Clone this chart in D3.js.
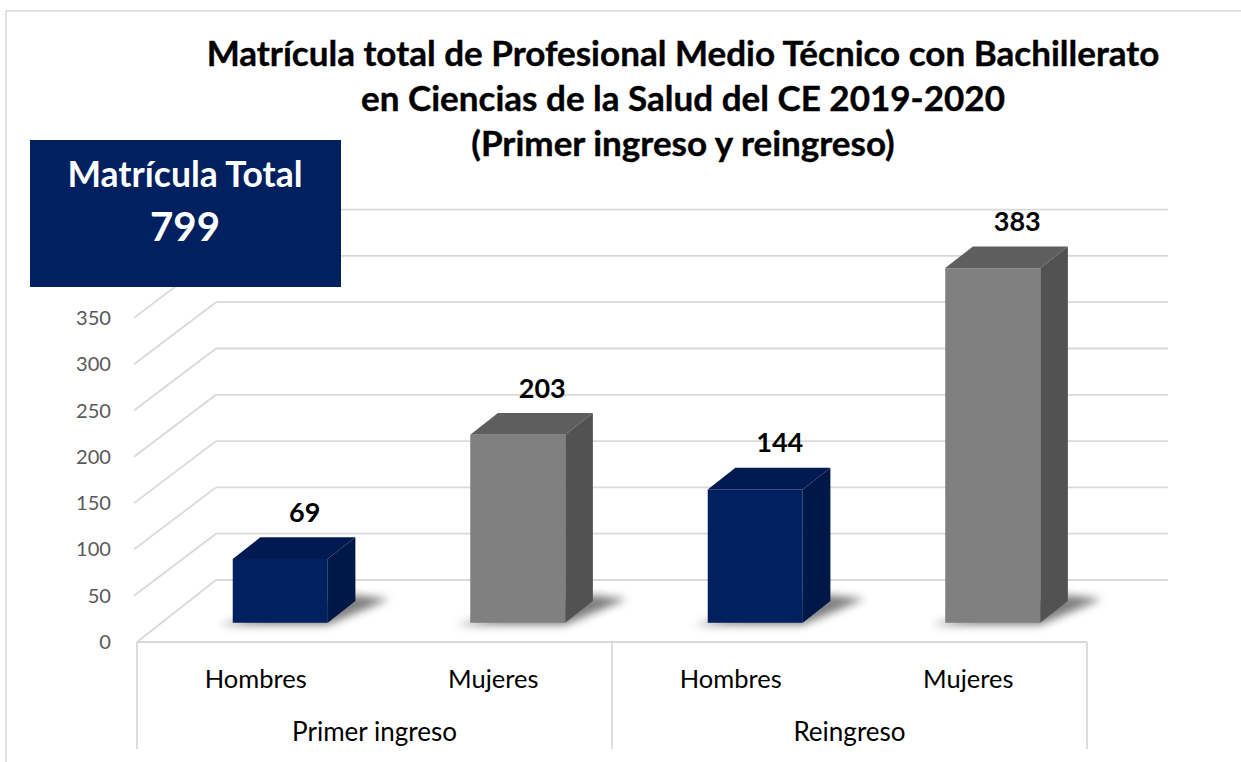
<!DOCTYPE html>
<html>
<head>
<meta charset="utf-8">
<script src="https://cdn.jsdelivr.net/npm/d3@7"></script>
<style>
  html, body { margin: 0; padding: 0; background: #fff; }
  svg { display: block; }
  text { font-family: Lato, "Open Sans", sans-serif; }
</style>
</head>
<body>
<svg id="chart" width="1241" height="762"></svg>
<script>
// ---- data ----
const groups = ["Primer ingreso", "Reingreso"];
const sexes = ["Hombres", "Mujeres"];
const primerIngreso = [69, 203];
const reingreso = [144, 383];
const yTickLabels = [0, 50, 100, 150, 200, 250, 300, 350];
const gridValues = [0, 50, 100, 150, 200, 250, 300, 350, 400];
const titleLines = [
  "Matrícula total de Profesional Medio Técnico con Bachillerato",
  "en Ciencias de la Salud del CE 2019-2020",
  "(Primer ingreso y reingreso)"
];

const bars = [];
groups.forEach((g, gi) => {
  const vals = gi === 0 ? primerIngreso : reingreso;
  sexes.forEach((s, si) => bars.push({ key: g + "|" + s, group: g, sex: s, value: vals[si] }));
});
const total = d3.sum(bars, d => d.value);

// ---- layout ----
const svg = d3.select("#chart");
const plot = { left: 137, right: 1087, floor: 642 };
const depth = { dx: 79, dy: -62 };       // full depth of the 3D box
const barDepth = [0.31, 0.66];           // bar front / back as fraction of depth
const colors = {
  Hombres: { front: "#002060", top: "#001a52", side: "#001847" },
  Mujeres: { front: "#808080", top: "#5e5e5e", side: "#525252" }
};
const grid = "#d9d9d9";

// scale a text selection's font so that its first node spans the given width
function fitWidth(sel, size, width) {
  sel.attr("font-size", size);
  const w = sel.node().getComputedTextLength();
  sel.attr("font-size", size * width / w);
  return sel;
}

const x = d3.scaleBand()
  .domain(bars.map(d => d.key))
  .range([plot.left, plot.right])
  .paddingInner(0.6)
  .paddingOuter(0.3);
const y = d3.scaleLinear().domain([0, 400]).range([plot.floor, plot.floor - 400 * 46.3 / 50]);

// project a front-plane point into depth d (0..1)
const P = (px, v, d) => [px + depth.dx * d, y(v) + depth.dy * d];

const defs = svg.append("defs");
defs.append("filter").attr("id", "shadowBlur")
  .attr("x", "-30%").attr("y", "-100%").attr("width", "160%").attr("height", "300%")
  .append("feGaussianBlur").attr("stdDeviation", 4);

// outer frame
svg.append("path")
  .attr("d", "M6,762 L6,11 L1241,11")
  .attr("fill", "none").attr("stroke", grid).attr("stroke-width", 1.5);

// ---- walls: gridlines on back wall and side wall ----
const gG = svg.append("g").attr("stroke", grid).attr("stroke-width", 1.8).attr("fill", "none");
gridValues.forEach(v => {
  const back0 = P(plot.left, v, 1);
  const back1 = P(plot.right, v, 1);
  gG.append("line").attr("x1", back0[0]).attr("y1", back0[1]).attr("x2", back1[0] + 2).attr("y2", back1[1]);
  const fx = v === 0 ? plot.left : plot.left - 3;
  gG.append("line").attr("x1", fx).attr("y1", y(v)).attr("x2", back0[0]).attr("y2", back0[1]);
});

// category axis box
const catTop = plot.floor, catBottom = 749;
const mid = (plot.left + plot.right) / 2;
gG.append("line").attr("x1", plot.left).attr("y1", catTop).attr("x2", plot.right).attr("y2", catTop);
[plot.left, mid, plot.right].forEach(xx =>
  gG.append("line").attr("x1", xx).attr("y1", catTop).attr("x2", xx).attr("y2", catBottom));

// y tick labels
const yt = svg.append("g").selectAll("text").data(yTickLabels.slice().reverse()).join("text")
  .attr("x", 111).attr("y", d => y(d)).attr("dy", "0.35em")
  .attr("text-anchor", "end").attr("fill", "#595959")
  .text(d => d);
fitWidth(yt, 20, 35);

// ---- bars ----
const gB = svg.append("g");
const labels = [];
bars.forEach(b => {
  const x0 = x(b.key), x1 = x(b.key) + x.bandwidth();
  const [d0, d1] = barDepth;
  const fBL = P(x0, 0, d0), fBR = P(x1, 0, d0), fTL = P(x0, b.value, d0), fTR = P(x1, b.value, d0);
  const bBR = P(x1, 0, d1), bTL = P(x0, b.value, d1), bTR = P(x1, b.value, d1);
  const c = colors[b.sex];

  // soft floor shadow
  gB.append("polygon")
    .attr("points", [[fBL[0] - 14, fBL[1] + 2], [fBR[0], fBR[1] + 2], [bBR[0] + 34, bBR[1] - 2], [bBR[0], bBR[1] - 6]].map(p => p.join(",")).join(" "))
    .attr("fill", "#000").attr("opacity", 0.5).attr("filter", "url(#shadowBlur)");

  // side face
  gB.append("polygon")
    .attr("points", [fTR, bTR, bBR, fBR].map(p => p.join(",")).join(" "))
    .attr("fill", c.side);
  // top face
  gB.append("polygon")
    .attr("points", [fTL, fTR, bTR, bTL].map(p => p.join(",")).join(" "))
    .attr("fill", c.top);
  // front face
  gB.append("rect")
    .attr("x", fTL[0]).attr("y", fTL[1])
    .attr("width", fTR[0] - fTL[0]).attr("height", fBL[1] - fTL[1])
    .attr("fill", c.front);

  labels.push({ v: b.value, x: x(b.key) + x.bandwidth() / 2 + depth.dx * 0.62, y: bTL[1] - 25 });
});

// value labels
const vl = svg.append("g").selectAll("text").data(labels.slice().sort((a, b) => b.v - a.v)).join("text")
  .attr("x", d => d.x).attr("y", d => d.y).attr("dy", "0.35em")
  .attr("text-anchor", "middle").attr("font-weight", 700).attr("fill", "#000")
  .text(d => d.v);
fitWidth(vl, 26, 47);

// category labels
const cl = svg.append("g").selectAll("text").data(bars).join("text")
  .attr("x", d => x(d.key) + x.bandwidth() / 2).attr("y", 679).attr("dy", "0.35em")
  .attr("text-anchor", "middle").attr("fill", "#000")
  .text(d => d.sex);
fitWidth(cl, 21, 102);
const gl = svg.append("g").selectAll("text").data(groups).join("text")
  .attr("x", (d, i) => i === 0 ? (plot.left + mid) / 2 : (mid + plot.right) / 2).attr("y", 732).attr("dy", "0.35em")
  .attr("text-anchor", "middle").attr("fill", "#000")
  .text(d => d);
fitWidth(gl, 21, 165);

// ---- title ----
const tl = svg.append("g").attr("font-weight", 700).attr("fill", "#000")
  .selectAll("text").data(titleLines).join("text")
  .attr("x", 683).attr("y", (d, i) => 54 + i * 45).attr("dy", "0.35em")
  .attr("text-anchor", "middle")
  .attr("stroke", "#000").attr("stroke-width", 0.4)
  .text(d => d);
fitWidth(tl, 32, 953);

// ---- total box ----
svg.append("rect").attr("x", 30).attr("y", 140).attr("width", 311).attr("height", 147).attr("fill", "#002060");
const bt = svg.append("text").attr("x", 185).attr("y", 175).attr("dy", "0.35em")
  .attr("text-anchor", "middle").attr("font-weight", 700).attr("fill", "#fff")
  .text("Matrícula Total");
fitWidth(bt, 30, 235);
const bn = svg.append("text").attr("x", 185).attr("y", 227).attr("dy", "0.35em")
  .attr("text-anchor", "middle").attr("font-weight", 700).attr("fill", "#fff")
  .text(total);
fitWidth(bn, 44, 70);
</script>
</body>
</html>
